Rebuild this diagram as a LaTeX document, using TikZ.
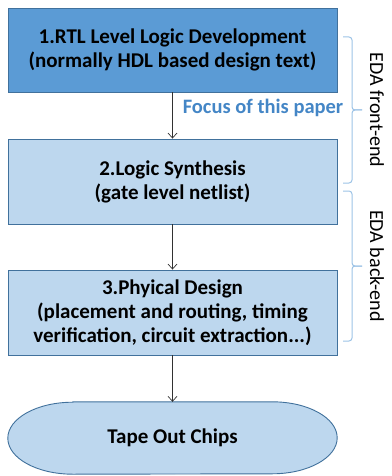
\documentclass[tikz,border=0pt]{standalone}
\usepackage{fontspec}
\setmainfont{Carlito}
\usetikzlibrary{arrows.meta}
\definecolor{darkfill}{RGB}{91,155,213}
\definecolor{lightfill}{RGB}{189,215,238}
\definecolor{boxline}{RGB}{65,113,156}
\definecolor{bracecol}{RGB}{157,195,230}
\definecolor{focuscol}{RGB}{68,134,198}
\definecolor{arrowcol}{RGB}{50,50,50}
\tikzset{
  stagebox/.style={rectangle, draw=boxline, line width=0.9pt, minimum width=329pt, inner sep=0pt, align=center, text=black, font=\bfseries\fontsize{21}{24}\selectfont},
  flowarrow/.style={draw=arrowcol, line width=0.7pt, -{Straight Barb[length=5pt,width=9pt,line width=0.7pt]}},
  bracepath/.style={draw=bracecol, line width=1pt, rounded corners=3pt},
  sidelabel/.style={font=\fontsize{20}{22}\selectfont, text=black, rotate=-90, inner sep=0pt},
}
\begin{document}
\begin{tikzpicture}[x=1pt,y=-1pt]
\useasboundingbox (0,0) rectangle (391,476);
\node[stagebox, fill=darkfill, minimum height=84pt] (b1) at (172.5,50) {1.RTL Level Logic Development\\(normally HDL based design text)};
\node[stagebox, fill=lightfill, minimum height=85pt] (b2) at (172.5,181.5) {2.Logic Synthesis\\(gate level netlist)};
\node[stagebox, fill=lightfill, minimum height=85pt] (b3) at (172.5,312.5) {3.Phyical Design\\(placement and routing, timing\\verification, circuit extraction...)};
\node[rectangle, minimum width=329pt, minimum height=72pt, inner sep=0pt] (b4) at (172.5,438) {};
\draw[draw=boxline, fill=lightfill, line width=0.9pt]
  ([xshift=65pt]b4.north west) -- ([xshift=-65pt]b4.north east)
  arc[start angle=90, end angle=-90, x radius=65pt, y radius=36pt]
  -- ([xshift=65pt]b4.south west)
  arc[start angle=270, end angle=90, x radius=65pt, y radius=36pt] -- cycle;
\node[font=\bfseries\fontsize{21}{24}\selectfont] (t4) at (b4.center) {Tape Out Chips};
\draw[flowarrow] (b1.south) -- (b2.north);
\draw[flowarrow] (b2.south) -- (b3.north);
\draw[flowarrow] (b3.south) -- (b4.north);
\node[font=\bfseries\fontsize{20.5}{22}\selectfont, text=focuscol, inner sep=0pt] (focus) at (263,108) {Focus of this paper};
\coordinate (f1) at (343,37);
\coordinate (f2) at (362,110);
\coordinate (f3) at (343,183);
\draw[bracepath] (f1) -- (352,37) -- (352,110) -- (f2);
\draw[bracepath] (f2) -- (352,110) -- (352,183) -- (f3);
\coordinate (k1) at (343,191);
\coordinate (k2) at (362,266);
\coordinate (k3) at (343,341);
\draw[bracepath] (k1) -- (352,191) -- (352,266) -- (k2);
\draw[bracepath] (k2) -- (352,266) -- (352,341) -- (k3);
\node[sidelabel] (fe) at (377,110) {EDA front-end};
\node[sidelabel] (be) at (377,266) {EDA back-end};
\end{tikzpicture}
\end{document}
